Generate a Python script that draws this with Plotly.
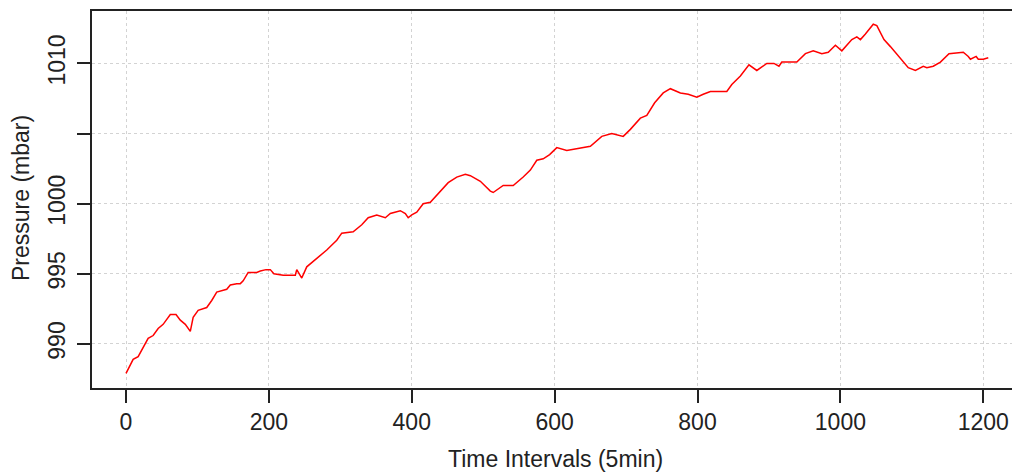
import plotly.graph_objects as go

time_idx = [0, 10, 17, 24, 31, 38, 45, 52, 62, 70, 76, 83, 90, 94, 101, 113, 120, 127, 134, 141,
            146, 155, 160, 164, 171, 183, 188, 196, 202, 207, 220, 237, 239, 246, 253, 267, 281, 295, 302, 318,
            330, 339, 351, 363, 370, 384, 391, 395, 400, 407, 416, 426, 437, 451, 463, 475, 482, 496, 510, 514,
            528, 542, 556, 566, 575, 584, 593, 603, 617, 636, 650, 666, 680, 696, 706, 720, 729, 740, 752, 762,
            776, 787, 799, 808, 818, 832, 841, 848, 860, 872, 883, 897, 907, 914, 918, 939, 951, 962, 974, 983,
            993, 1002, 1016, 1023, 1028, 1035, 1046, 1051, 1061, 1070, 1082, 1088, 1095, 1105, 1116, 1121, 1130, 1140, 1152, 1172,
            1179, 1182, 1190, 1193, 1200, 1207]
pressure = [987.9, 988.9, 989.1, 989.7, 990.4, 990.6, 991.1, 991.4, 992.1, 992.1, 991.7, 991.4, 990.9, 991.9, 992.4, 992.6, 993.1, 993.7, 993.8, 993.9,
            994.2, 994.3, 994.3, 994.5, 995.1, 995.1, 995.2, 995.3, 995.3, 995.0, 994.9, 994.9, 995.3, 994.7, 995.5, 996.1, 996.7, 997.4, 997.9, 998.0,
            998.5, 999.0, 999.2, 999.0, 999.3, 999.5, 999.3, 999.0, 999.2, 999.4, 1000.0, 1000.1, 1000.7, 1001.5, 1001.9, 1002.1, 1002.0, 1001.6, 1000.9, 1000.8,
            1001.3, 1001.3, 1001.9, 1002.4, 1003.1, 1003.2, 1003.5, 1004.0, 1003.8, 1004.0, 1004.1, 1004.8, 1005.0, 1004.8, 1005.3, 1006.1, 1006.3, 1007.2, 1007.9, 1008.2,
            1007.9, 1007.8, 1007.6, 1007.8, 1008.0, 1008.0, 1008.0, 1008.5, 1009.1, 1009.9, 1009.5, 1010.0, 1010.0, 1009.8, 1010.1, 1010.1, 1010.7, 1010.9, 1010.7, 1010.8,
            1011.3, 1010.9, 1011.7, 1011.9, 1011.7, 1012.1, 1012.8, 1012.7, 1011.7, 1011.2, 1010.5, 1010.1, 1009.7, 1009.5, 1009.8, 1009.7, 1009.8, 1010.1, 1010.7, 1010.8,
            1010.5, 1010.3, 1010.5, 1010.3, 1010.3, 1010.4]

x_ticks = [0, 200, 400, 600, 800, 1000, 1200]
x_tick_labels = ["0", "200", "400", "600", "800", "1000", "1200"]
y_ticks = [990, 995, 1000, 1005, 1010]
y_tick_labels = ["990", "995", "1000", "", "1010"]

FONT = "Liberation Sans, Arial, sans-serif"
INK = "#222222"
FS = 23

fig = go.Figure()
fig.add_trace(go.Scatter(x=time_idx, y=pressure, mode="lines",
                         line=dict(color="#ff0000", width=1.5), hoverinfo="skip"))

fig.update_layout(
    width=1012, height=472,
    margin=dict(l=92, r=0, t=11, b=84),
    paper_bgcolor="white", plot_bgcolor="white",
    showlegend=False,
    font=dict(family=FONT, size=FS, color=INK),
    xaxis=dict(range=[-47.6, 1240.2], tickvals=x_ticks, ticktext=x_tick_labels,
               showgrid=True, gridcolor="#d3d3d3", griddash="dot", gridwidth=1,
               zeroline=False, showline=True, mirror=True, linecolor=INK, linewidth=1.5,
               ticks="outside", ticklen=13, tickwidth=1.5, tickcolor=INK,
               tickfont=dict(family=FONT, size=FS, color=INK)),
    yaxis=dict(range=[986.86, 1013.74], tickvals=y_ticks, ticktext=y_tick_labels,
               showgrid=True, gridcolor="#d3d3d3", griddash="dot", gridwidth=1,
               zeroline=False, showline=True, mirror=False, linecolor=INK, linewidth=1.5,
               ticks="outside", ticklen=13, tickwidth=1.5, tickcolor=INK, tickangle=-90,
               ticklabelstandoff=3,
               tickfont=dict(family=FONT, size=FS, color=INK)),
    annotations=[
        dict(text="Time Intervals (5min)", xref="paper", yref="paper",
             x=(555 - 92) / 920, y=-(459 - 388) / 377, xanchor="center", yanchor="middle",
             showarrow=False, font=dict(family=FONT, size=FS, color=INK)),
        dict(text="Pressure (mbar)", xref="paper", yref="paper",
             x=-(92 - 21) / 920, y=0.5 + (199.5 - 198) / 377, xanchor="center", yanchor="middle",
             textangle=-90, showarrow=False, font=dict(family=FONT, size=FS, color=INK)),
    ],
)

fig.write_html("out.html", config={"displayModeBar": False})
